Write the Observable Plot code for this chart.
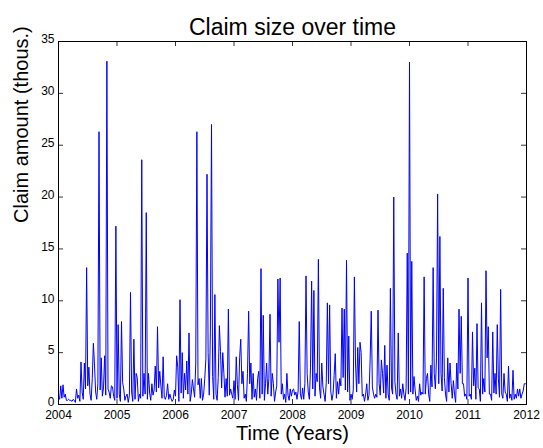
<!DOCTYPE html>
<html>
<head>
<meta charset="utf-8">
<script src="https://cdn.jsdelivr.net/npm/d3@7"></script>
<script src="https://cdn.jsdelivr.net/npm/@observablehq/plot@0.6"></script>
<style>
  html, body { margin: 0; padding: 0; background: #fff; }
  #chart svg { display: block; }
</style>
</head>
<body>
<div id="chart"></div>
<script>
const titleText = "Claim size over time";
const xLabel = "Time (Years)";
const yLabel = "Claim amount (thous.)";
const startYear = 2004;
const weeksPerYear = 52;
const xTicks = [2004, 2005, 2006, 2007, 2008, 2009, 2010, 2011, 2012];
const yTicks = [0, 5, 10, 15, 20, 25, 30, 35];

// weekly claim amounts (thousands)
const claims2004 = [0.8,0.5,1.8,0.6,1.9,0.7,1.0,0.4,0.4,0.5,0.4,0.4,0.3,0.5,0.4,0.2,1.5,0.6,0.9,0.3,4.1,1.2,0.5,4.0,1.5,13.2,1.8,3.6,1.0,0.4,2.5,5.9,3.8,1.2,0.5,2.0,26.3,1.4,4.5,0.8,1.6,4.7,0.9,33.1,1.5,1.2,0.6,1.8,1.7,0.8,0.4,17.2];
const claims2005 = [0.6,7.7,1.0,0.3,8.0,2.1,1.5,0.4,0.8,1.0,0.2,0.9,10.8,1.2,0.3,6.3,0.5,3.0,2.6,0.3,1.0,0.6,23.6,0.8,3.0,1.0,18.5,0.5,3.0,1.1,0.4,2.0,0.9,1.4,3.7,1.2,7.5,1.6,3.2,1.8,0.6,4.6,0.7,0.5,0.9,2.0,0.5,1.0,0.6,0.3,0.5,1.4];
const claims2006 = [0.8,4.7,3.6,0.3,10.1,1.1,5.0,0.6,3.0,1.4,4.2,1.0,6.9,0.3,1.0,2.4,1.5,0.7,4.0,26.3,1.9,2.5,0.6,2.5,0.4,1.0,2.5,4.4,22.2,5.0,0.9,7.0,27.0,2.7,0.5,10.6,1.0,0.4,2.6,7.6,5.1,1.6,5.0,3.0,0.7,2.5,0.8,9.2,0.9,1.5,1.0,0.6];
const claims2007 = [2.3,0.5,4.6,1.9,0.4,4.5,6.3,2.0,3.2,0.6,1.0,0.3,3.0,9.0,2.0,4.0,0.5,3.0,0.7,1.5,0.4,2.5,3.2,0.6,13.1,1.0,8.6,0.4,2.0,4.0,1.0,2.5,8.7,0.8,3.0,2.0,0.3,1.2,1.8,12.1,6.0,12.2,1.0,2.0,0.5,1.0,0.2,3.0,0.9,0.4,1.5,0.8];
const claims2008 = [1.4,1.5,0.9,1.2,0.5,1.3,8.0,1.0,0.5,1.6,0.5,2.0,12.4,3.0,1.2,0.5,3.6,11.9,1.5,11.0,0.8,3.0,2.2,14.0,1.6,0.6,4.0,1.7,1.0,0.3,2.1,9.8,2.0,9.6,1.3,0.4,1.0,2.8,4.9,0.6,2.2,1.0,2.5,1.8,9.3,2.6,9.2,1.4,13.9,1.2,6.6,0.4];
const claims2009 = [1.0,0.5,1.4,12.3,4.0,1.2,5.5,2.0,6.0,5.0,0.8,1.0,0.3,1.0,2.0,0.4,0.9,4.3,9.0,1.7,1.0,0.6,1.0,0.7,9.1,2.0,0.9,4.3,3.0,1.1,5.7,0.6,3.8,1.0,0.4,11.2,1.6,1.0,20.0,2.2,1.0,0.5,6.9,0.8,1.5,0.6,2.0,1.0,0.4,1.6,14.6,1.0];
const claims2010 = [33.0,1.2,13.8,1.0,2.7,1.4,0.4,0.8,0.3,2.0,0.9,1.2,1.0,12.3,1.0,2.5,3.0,1.0,0.3,3.8,1.7,13.2,3.0,1.5,4.5,20.3,2.0,16.2,3.0,1.3,11.2,2.6,1.0,0.3,4.5,1.2,4.0,2.0,0.6,2.3,1.0,0.2,4.0,1.5,9.2,3.0,8.5,2.0,2.0,0.8,1.0,0.5];
const claims2011 = [12.2,0.8,1.0,0.5,7.0,1.8,3.5,0.5,7.8,1.6,1.5,0.3,9.8,1.0,2.5,1.2,12.9,4.5,7.5,1.0,1.0,0.4,7.0,1.1,3.0,1.0,7.7,2.5,0.7,11.1,1.0,0.6,3.0,1.2,1.0,0.3,3.7,0.6,1.0,0.4,3.3,0.5,1.0,0.6,1.5,0.8,1.5,0.6,1.0,1.3,2.0,2.0];

const claims = [].concat(claims2004, claims2005, claims2006, claims2007, claims2008, claims2009, claims2010, claims2011);
const data = claims.map((v, i) => ({t: startYear + i / weeksPerYear, v}));

const W = 543, H = 448;
const mL = 58, mR = 17, mT = 41, mB = 44;
const fw = W - mL - mR, fh = H - mT - mB;
const font = "'Liberation Sans', Arial, Helvetica, sans-serif";

const chart = Plot.plot({
  width: W,
  height: H,
  marginLeft: mL, marginRight: mR, marginTop: mT, marginBottom: mB,
  style: {fontFamily: font, background: "#fff", color: "#000"},
  x: {domain: [2004, 2012], label: null},
  y: {domain: [0, 35], label: null},
  marks: [
    Plot.lineY(data, {x: "t", y: "v", stroke: "#0000ff", strokeWidth: 1}),
    // inward ticks (MATLAB style)
    Plot.tickY(yTicks, {y: d => d, insetRight: fw - 5, stroke: "#000", strokeWidth: 0.8}),
    Plot.tickY(yTicks, {y: d => d, insetLeft: fw - 5, stroke: "#000", strokeWidth: 0.8}),
    Plot.tickX(xTicks, {x: d => d, insetTop: fh - 5, stroke: "#000", strokeWidth: 0.8}),
    Plot.tickX(xTicks, {x: d => d, insetBottom: fh - 5, stroke: "#000", strokeWidth: 0.8}),
    Plot.axisY(yTicks, {anchor: "left", tickSize: 0, tickPadding: 4, fontSize: 12, dy: -2, label: null}),
    Plot.axisX(xTicks, {anchor: "bottom", tickSize: 0, tickPadding: 6, fontSize: 12, label: null, tickFormat: d => String(d)}),
    Plot.frame({stroke: "#000", strokeWidth: 1}),
    Plot.text([titleText], {frameAnchor: "top", dy: -23, fontSize: 23, fill: "#000"}),
    Plot.text([xLabel], {frameAnchor: "bottom", dy: 35, fontSize: 20, fill: "#000"}),
    Plot.text([yLabel], {frameAnchor: "left", dx: -37, rotate: -90, fontSize: 20, fill: "#000"})
  ]
});
document.getElementById("chart").appendChild(chart);
</script>
</body>
</html>
